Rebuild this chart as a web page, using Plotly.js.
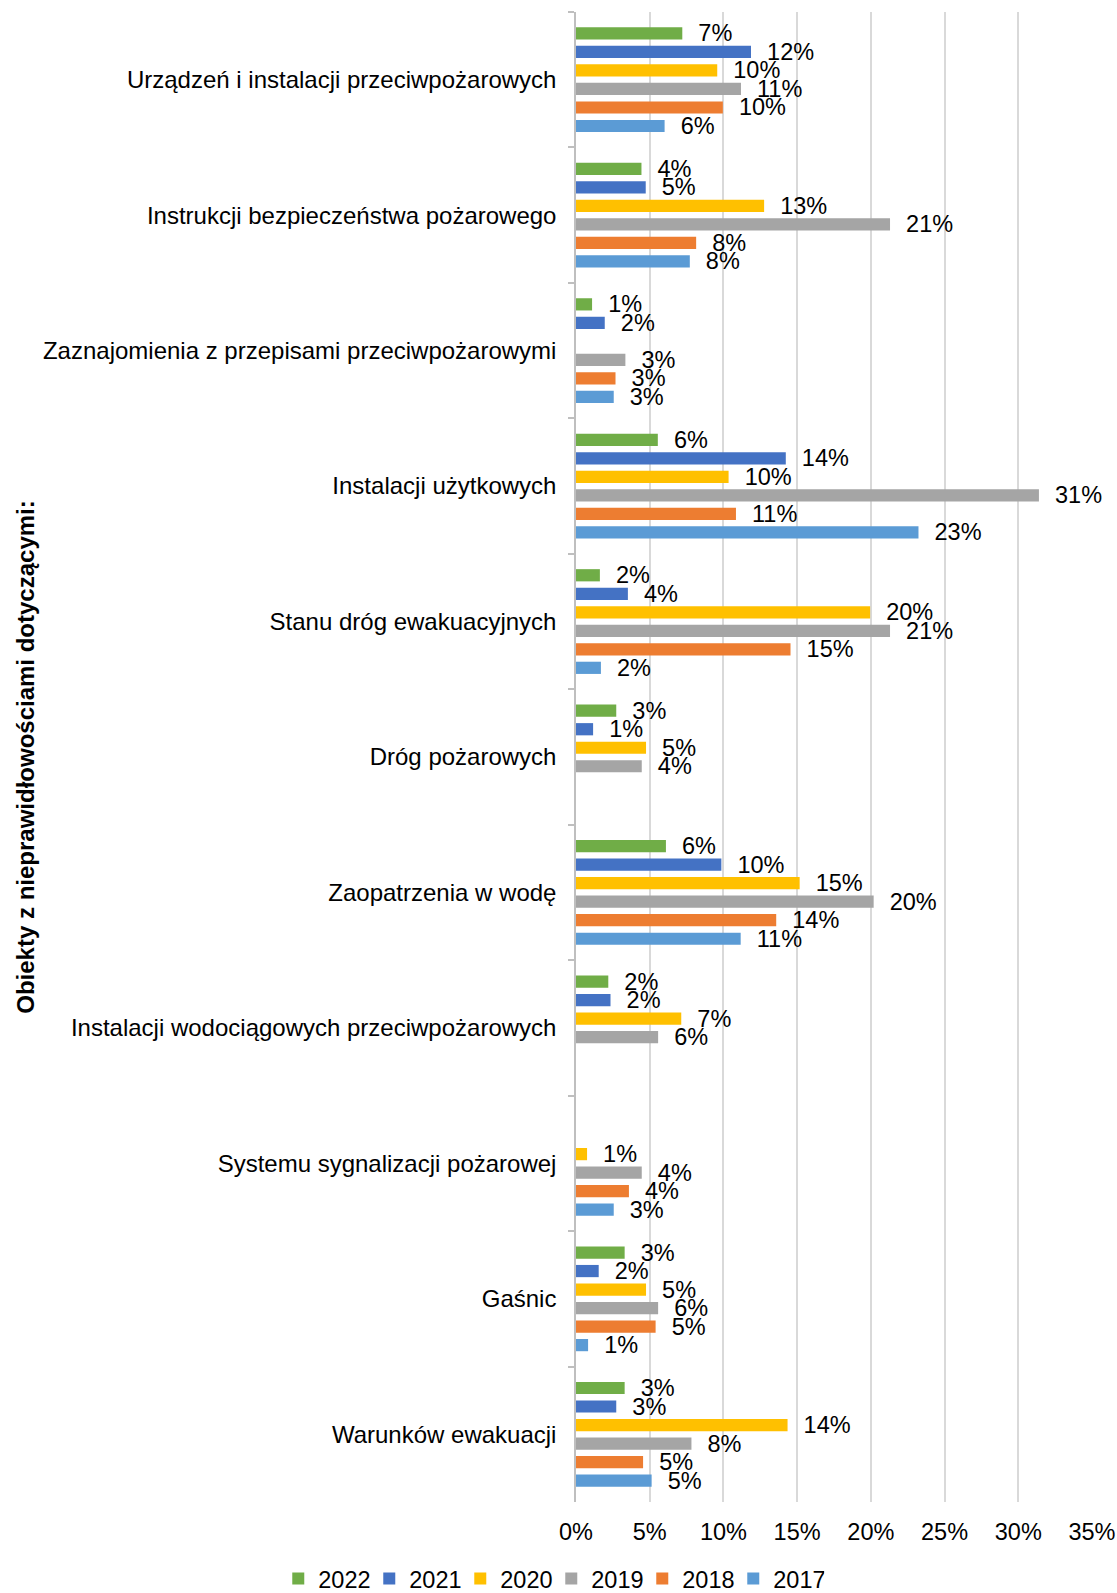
<!DOCTYPE html>
<html>
<head>
<meta charset="utf-8">
<script src="https://cdn.plot.ly/plotly-3.0.1.min.js"></script>
<style>body{margin:0;padding:0;background:#fff;}#chart{width:1117px;height:1593px;}</style>
</head>
<body>
<div id="chart"></div>
<script>
const categories = [
  "Urządzeń i instalacji przeciwpożarowych",
  "Instrukcji bezpieczeństwa pożarowego",
  "Zaznajomienia z przepisami przeciwpożarowymi",
  "Instalacji użytkowych",
  "Stanu dróg ewakuacyjnych",
  "Dróg pożarowych",
  "Zaopatrzenia w wodę",
  "Instalacji wodociągowych przeciwpożarowych",
  "Systemu sygnalizacji pożarowej",
  "Gaśnic",
  "Warunków ewakuacji"
];
const seriesNames = ["2022", "2021", "2020", "2019", "2018", "2017"];
const v2022 = [7.21, 4.44, 1.09, 5.55, 1.62, 2.73, 6.10, 2.19, null, 3.30, 3.30];
const v2021 = [11.87, 4.73, 1.95, 14.23, 3.52, 1.16, 9.86, 2.34, null, 1.54, 2.73];
const v2020 = [9.58, 12.76, null, 10.35, 19.95, 4.75, 15.17, 7.14, 0.75, 4.75, 14.35];
const v2019 = [11.19, 21.30, 3.35, 31.40, 21.30, 4.46, 20.19, 5.57, 4.46, 5.57, 7.83];
const v2018 = [9.96, 8.15, 2.68, 10.85, 14.55, null, 13.58, null, 3.59, 5.40, 4.55];
const v2017 = [6.01, 7.72, 2.56, 23.23, 1.69, null, 11.17, null, 2.56, 0.82, 5.13];
const colors = ["#70AD47", "#4472C4", "#FFC000", "#A5A5A5", "#ED7D31", "#5B9BD5"];
const xTickVals = [0, 5, 10, 15, 20, 25, 30, 35];

const allValues = [v2022, v2021, v2020, v2019, v2018, v2017];
const FONT = "Liberation Sans, Arial, sans-serif";
const FS = 23.5;
const FS_CAT = 24;

const traces = allValues.map((vals, i) => ({
  type: "bar",
  orientation: "h",
  name: seriesNames[i],
  y: categories,
  x: vals,
  marker: {color: colors[i]},
  texttemplate: "\u00a0\u00a0%{x:.0f}%",
  textposition: "outside",
  constraintext: "none",
  cliponaxis: false,
  textfont: {family: FONT, size: FS, color: "#000"},
  hoverinfo: "x+name"
}));

const layout = {
  width: 1117,
  height: 1593,
  margin: {l: 576, r: 25, t: 12, b: 91, autoexpand: false},
  paper_bgcolor: "#fff",
  plot_bgcolor: "#fff",
  font: {family: FONT, size: FS, color: "#000"},
  barmode: "group",
  bargap: 0.18,
  bargroupgap: 0.34,
  showlegend: true,
  legend: {
    orientation: "h",
    xref: "paper", yref: "paper",
    x: -0.577, xanchor: "left",
    y: -0.0515, yanchor: "middle",
    traceorder: "normal",
    font: {family: FONT, size: FS, color: "#000"},
    itemwidth: 30,
    entrywidth: 46,
    entrywidthmode: "pixels"
  },
  xaxis: {
    range: [0, 35],
    tickmode: "array",
    tickvals: xTickVals,
    ticktext: xTickVals.map(v => v + "%"),
    showgrid: true,
    gridcolor: "#d9d9d9",
    gridwidth: 1.5,
    zeroline: false,
    showline: false,
    ticks: "",
    ticklabelstandoff: 13,
    tickfont: {family: FONT, size: FS, color: "#000"},
    fixedrange: true
  },
  yaxis: {
    type: "category",
    autorange: "reversed",
    showline: true,
    linecolor: "#bfbfbf",
    linewidth: 1.5,
    ticks: "outside",
    tickson: "boundaries",
    ticklen: 6,
    tickcolor: "#bfbfbf",
    tickwidth: 1.5,
    ticklabelstandoff: 13,
    showgrid: false,
    zeroline: false,
    automargin: false,
    tickfont: {family: FONT, size: FS_CAT, color: "#000"},
    title: {
      text: "<b>Obiekty z nieprawidłowościami dotyczącymi:</b>",
      font: {family: FONT, size: 24, color: "#000"},
      standoff: 2
    }
  }
};

Plotly.newPlot("chart", traces, layout, {displayModeBar: false, responsive: false});
</script>
</body>
</html>
